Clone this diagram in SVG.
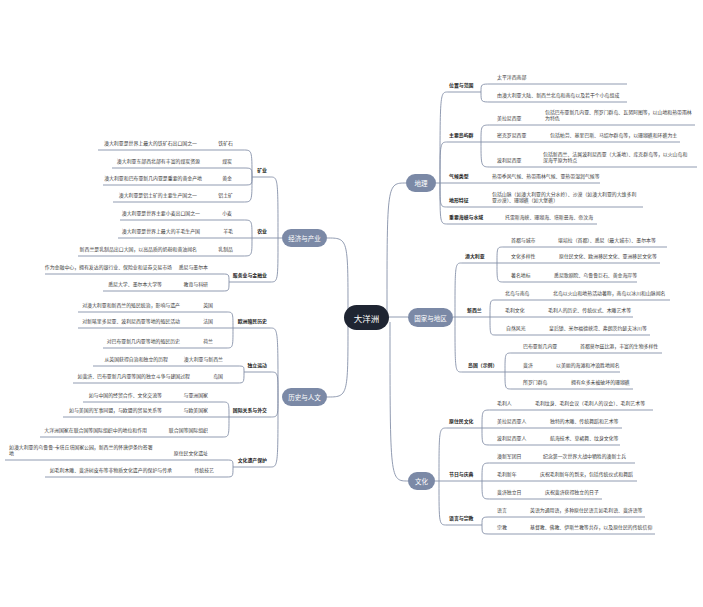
<svg xmlns="http://www.w3.org/2000/svg" width="703" height="607" viewBox="0 0 703 607">
<style>
.c,.u{fill:none;stroke:#8590a8;stroke-width:.9}
text{font-family:"Noto Sans CJK SC","Noto Sans",sans-serif}
.l{font-size:4.9px;fill:#3a3a3a}
.s{font-size:4.9px;fill:#222;font-weight:700}
.e{text-anchor:end}
.p{fill:#7b89a6}
.pt{font-size:6.5px;fill:#fff;text-anchor:middle;dominant-baseline:central}
.root{fill:#1f2532}
.rt{font-size:8.5px;fill:#fff;text-anchor:middle;dominant-baseline:central}
</style>
<rect width="703" height="607" fill="#fff"/>
<g id="connectors">
<path class="c" d="M348,312 C348,238 348,238 327,238"/>
<path class="c" d="M348,322 C348,397 348,397 327,397"/>
<path class="c" d="M387,312 C387,183 387,183 406,183"/>
<path class="c" d="M389,317 H408"/>
<path class="c" d="M390,322 C390,481 390,481 408,481"/>
<path class="c" d="M440,183 C440,92 440,92 448,92"/>
<path class="c" d="M440,183 C440,142 440,142 448,142"/>
<path class="c" d="M440,183 C440,207 440,207 448,207"/>
<path class="c" d="M440,183 C440,224 440,224 448,224"/>
<path class="c" d="M481,92 C481,84 481,84 491,84"/>
<path class="c" d="M481,92 C481,102 481,102 491,102"/>
<path class="c" d="M481,142 C481,125 481,125 491,125"/>
<path class="c" d="M481,142 C481,167 481,167 491,167"/>
<path class="c" d="M455,317 C455,263 455,263 462,263"/>
<path class="c" d="M455,317 C455,372 455,372 462,372"/>
<path class="c" d="M497,263 C497,247 497,247 504,247"/>
<path class="c" d="M497,263 C497,282 497,282 504,282"/>
<path class="c" d="M490,317 C490,300 490,300 496,300"/>
<path class="c" d="M490,317 C490,335 490,335 496,335"/>
<path class="c" d="M505,372 C505,353 505,353 512,353"/>
<path class="c" d="M505,372 C505,389 505,389 512,389"/>
<path class="c" d="M439,481 C439,428 439,428 447,428"/>
<path class="c" d="M439,481 C439,525 439,525 447,525"/>
<path class="c" d="M482,428 C482,410 482,410 491,410"/>
<path class="c" d="M482,428 C482,445 482,445 491,445"/>
<path class="c" d="M482,481 C482,463 482,463 491,463"/>
<path class="c" d="M482,481 C482,499 482,499 491,499"/>
<path class="c" d="M482,525 C482,517 482,517 491,517"/>
<path class="c" d="M482,525 C482,534 482,534 491,534"/>
<path class="c" d="M278,238 C278,177 278,177 270,177"/>
<path class="c" d="M278,238 C278,282 278,282 270,282"/>
<path class="c" d="M252,177 C252,150 252,150 243,150"/>
<path class="c" d="M252,177 C252,168 252,168 243,168"/>
<path class="c" d="M252,177 C252,185 252,185 243,185"/>
<path class="c" d="M252,177 C252,202 252,202 243,202"/>
<path class="c" d="M252,238 C252,220 252,220 243,220"/>
<path class="c" d="M252,238 C252,256 252,256 243,256"/>
<path class="c" d="M229,282 C229,274 229,274 222,274"/>
<path class="c" d="M229,282 C229,291 229,291 222,291"/>
<path class="c" d="M278,397 C278,328 278,328 270,328"/>
<path class="c" d="M278,397 C278,372 278,372 270,372"/>
<path class="c" d="M278,397 C278,417 278,417 270,417"/>
<path class="c" d="M278,397 C278,467 278,467 270,467"/>
<path class="c" d="M233,328 C233,312 233,312 226,312"/>
<path class="c" d="M233,328 C233,348 233,348 226,348"/>
<path class="c" d="M244,372 C244,366 244,366 237,366"/>
<path class="c" d="M244,372 C244,383 244,383 237,383"/>
<path class="c" d="M229,417 C229,402 229,402 222,402"/>
<path class="c" d="M229,417 C229,437 229,437 222,437"/>
<path class="c" d="M233,467 C233,460 233,460 226,460"/>
<path class="c" d="M233,467 C233,477 233,477 226,477"/>
</g>

<g id="root"><rect class="root" x="344" y="305" width="45" height="25" rx="12.5"/><text class="rt" x="366.5" y="317.5">大洋洲</text></g>

<g id="t-dili"><rect class="p" x="406" y="174" width="30" height="18" rx="9"/><text class="pt" x="421" y="183">地理</text></g>
<g id="t-guojia"><rect class="p" x="408" y="308" width="45" height="19" rx="9.5"/><text class="pt" x="430.5" y="317.5">国家与地区</text></g>
<g id="t-wenhua"><rect class="p" x="408" y="472" width="27" height="18" rx="9"/><text class="pt" x="421.5" y="481">文化</text></g>
<g id="t-jingji"><rect class="p" x="282" y="229" width="45" height="18" rx="9"/><text class="pt" x="304.5" y="238">经济与产业</text></g>
<g id="t-lishi"><rect class="p" x="282" y="388" width="45" height="18" rx="9"/><text class="pt" x="304.5" y="397">历史与人文</text></g>

<g id="s-weizhi"><path class="u" d="M448,92 H481"/><text class="s" x="449" y="87">位置与范围</text></g>
<g id="n-taipingyang"><path class="u" d="M491,84 H627"/><text class="l" x="497" y="79">太平洋西南部</text></g>
<g id="n-youaodaliya"><path class="u" d="M491,102 H627"/><text class="l" x="497" y="97">由澳大利亚大陆、新西兰北岛和南岛以及若干个小岛组成</text></g>
<g id="s-daoyu"><path class="u" d="M448,142 H481"/><text class="s" x="449" y="137">主要岛屿群</text></g>
<g id="n-melan"><path class="u" d="M491,125 H541"/><text class="l" x="497" y="120">美拉尼西亚</text></g>
<g id="d-melan"><path class="u" d="M541,125 H695"/><text class="l" x="545" y="114">包括巴布亚新几内亚、所罗门群岛、瓦努阿图等，以山地和热带雨林</text><text class="l" x="545" y="120">为特色</text></g>
<g id="n-mikro"><path class="u" d="M481,142 H546"/><text class="l" x="497" y="137">密克罗尼西亚</text></g>
<g id="d-mikro"><path class="u" d="M546,142 H680"/><text class="l" x="550" y="137">包括帕劳、基里巴斯、马绍尔群岛等，以珊瑚礁和环礁为主</text></g>
<g id="n-poly"><path class="u" d="M491,167 H539"/><text class="l" x="497" y="162">波利尼西亚</text></g>
<g id="d-poly"><path class="u" d="M539,167 H697"/><text class="l" x="543" y="156">包括新西兰、法属波利尼西亚（大溪地）、库克群岛等，以火山岛和</text><text class="l" x="543" y="162">深海平原为特点</text></g>
<g id="s-qihou"><path class="u" d="M436,183 H488"/><text class="s" x="449" y="178">气候类型</text></g>
<g id="d-qihou"><path class="u" d="M488,183 H600"/><text class="l" x="492" y="178">热带季风气候、热带雨林气候、亚热带湿润气候等</text></g>
<g id="s-dixing"><path class="u" d="M448,207 H488"/><text class="s" x="449" y="202">地形特征</text></g>
<g id="d-dixing"><path class="u" d="M488,207 H643"/><text class="l" x="492" y="196">包括山脉（如澳大利亚的大分水岭）、沙漠（如澳大利亚的大维多利</text><text class="l" x="492" y="202">亚沙漠）、珊瑚礁（如大堡礁）</text></g>
<g id="s-haixia"><path class="u" d="M448,224 H501"/><text class="s" x="449" y="219">重要海峡与水域</text></g>
<g id="d-haixia"><path class="u" d="M501,224 H597"/><text class="l" x="505" y="219">托雷斯海峡、珊瑚海、塔斯曼海、帝汶海</text></g>

<g id="s-aodaliya"><path class="u" d="M462,263 H497"/><text class="s" x="465" y="258">澳大利亚</text></g>
<g id="n-shoudu"><path class="u" d="M504,247 H554"/><text class="l" x="511" y="242">首都与城市</text></g>
<g id="d-shoudu"><path class="u" d="M554,247 H667"/><text class="l" x="558" y="242">堪培拉（首都）、悉尼（最大城市）、墨尔本等</text></g>
<g id="n-duoyang"><path class="u" d="M497,263 H555"/><text class="l" x="511" y="258">文化多样性</text></g>
<g id="d-duoyang"><path class="u" d="M555,263 H660"/><text class="l" x="559" y="258">原住民文化、欧洲移民文化、亚洲移民文化等</text></g>
<g id="n-dibiao"><path class="u" d="M504,282 H550"/><text class="l" x="511" y="277">著名地标</text></g>
<g id="d-dibiao"><path class="u" d="M550,282 H637"/><text class="l" x="554" y="277">悉尼歌剧院、乌鲁鲁巨石、黄金海岸等</text></g>
<g id="s-xinxilan"><path class="u" d="M453,317 H490"/><text class="s" x="467" y="312">新西兰</text></g>
<g id="n-beidao"><path class="u" d="M496,300 H549"/><text class="l" x="505" y="295">北岛与南岛</text></g>
<g id="d-beidao"><path class="u" d="M549,300 H670"/><text class="l" x="553" y="295">北岛以火山和地热活动著称，南岛以冰川和山脉闻名</text></g>
<g id="n-maoli"><path class="u" d="M490,317 H544"/><text class="l" x="505" y="312">毛利文化</text></g>
<g id="d-maoli"><path class="u" d="M544,317 H633"/><text class="l" x="548" y="312">毛利人的历史、传统仪式、木雕艺术等</text></g>
<g id="n-ziran"><path class="u" d="M496,335 H545"/><text class="l" x="506" y="330">自然风光</text></g>
<g id="d-ziran"><path class="u" d="M545,335 H650"/><text class="l" x="549" y="330">皇后镇、米尔福德峡湾、弗朗茨约瑟夫冰川等</text></g>
<g id="s-daoguo"><path class="u" d="M462,372 H505"/><text class="s" x="468" y="367">岛国（示例）</text></g>
<g id="n-babuya"><path class="u" d="M512,353 H576"/><text class="l" x="523" y="348">巴布亚新几内亚</text></g>
<g id="d-babuya"><path class="u" d="M576,353 H662"/><text class="l" x="580" y="348">首都莫尔兹比港，丰富的生物多样性</text></g>
<g id="n-feiji"><path class="u" d="M505,372 H552"/><text class="l" x="523" y="367">斐济</text></g>
<g id="d-feiji"><path class="u" d="M552,372 H620"/><text class="l" x="556" y="367">以美丽的海滩和冲浪胜地闻名</text></g>
<g id="n-suoluomen"><path class="u" d="M512,389 H567"/><text class="l" x="523" y="384">所罗门群岛</text></g>
<g id="d-suoluomen"><path class="u" d="M567,389 H633"/><text class="l" x="571" y="384">拥有众多未被破坏的珊瑚礁</text></g>

<g id="s-yuanzhumin"><path class="u" d="M447,428 H482"/><text class="s" x="449" y="423">原住民文化</text></g>
<g id="n-maoliren"><path class="u" d="M491,410 H531"/><text class="l" x="497" y="405">毛利人</text></g>
<g id="d-maoliren"><path class="u" d="M531,410 H653"/><text class="l" x="535" y="405">毛利纹身、毛利会议（毛利人的议会）、毛利艺术等</text></g>
<g id="n-melanren"><path class="u" d="M482,428 H546"/><text class="l" x="497" y="423">美拉尼西亚人</text></g>
<g id="d-melanren"><path class="u" d="M546,428 H622"/><text class="l" x="550" y="423">独特的木雕、传统舞蹈和艺术等</text></g>
<g id="n-polyren"><path class="u" d="M491,445 H546"/><text class="l" x="497" y="440">波利尼西亚人</text></g>
<g id="d-polyren"><path class="u" d="M546,445 H620"/><text class="l" x="550" y="440">航海技术、草裙舞、纹身文化等</text></g>
<g id="s-jieri"><path class="u" d="M435,481 H482"/><text class="s" x="449" y="476">节日与庆典</text></g>
<g id="n-aoxin"><path class="u" d="M491,463 H539"/><text class="l" x="497" y="458">澳新军团日</text></g>
<g id="d-aoxin"><path class="u" d="M539,463 H635"/><text class="l" x="543" y="458">纪念第一次世界大战中牺牲的澳新士兵</text></g>
<g id="n-maolixinnian"><path class="u" d="M482,481 H536"/><text class="l" x="497" y="476">毛利新年</text></g>
<g id="d-maolixinnian"><path class="u" d="M536,481 H637"/><text class="l" x="540" y="476">庆祝毛利新年的到来，包括传统仪式和舞蹈</text></g>
<g id="n-duli"><path class="u" d="M491,499 H541"/><text class="l" x="497" y="494">斐济独立日</text></g>
<g id="d-duli"><path class="u" d="M541,499 H602"/><text class="l" x="545" y="494">庆祝斐济获得独立的日子</text></g>
<g id="s-yuyan"><path class="u" d="M447,525 H482"/><text class="s" x="449" y="520">语言与宗教</text></g>
<g id="n-yuyan"><path class="u" d="M491,517 H526"/><text class="l" x="497" y="512">语言</text></g>
<g id="d-yuyan"><path class="u" d="M526,517 H645"/><text class="l" x="530" y="512">英语为通用语，多种原住民语言如毛利语、斐济语等</text></g>
<g id="n-zongjiao"><path class="u" d="M491,534 H526"/><text class="l" x="497" y="529">宗教</text></g>
<g id="d-zongjiao"><path class="u" d="M526,534 H655"/><text class="l" x="530" y="529">基督教、佛教、伊斯兰教等共存，以及原住民的传统信仰</text></g>

<g id="s-kuangye"><path class="u" d="M252,177 H270"/><text class="s e" x="267" y="172">矿业</text></g>
<g id="n-tiekuang"><path class="u" d="M214,150 H243"/><text class="l e" x="233" y="145">铁矿石</text></g>
<g id="d-tiekuang"><path class="u" d="M98,150 H214"/><text class="l e" x="197" y="145">澳大利亚是世界上最大的铁矿石出口国之一</text></g>
<g id="n-meitan"><path class="u" d="M218,168 H243"/><text class="l e" x="232" y="163">煤炭</text></g>
<g id="d-meitan"><path class="u" d="M112,168 H218"/><text class="l e" x="200" y="163">澳大利亚东部西北部有丰富的煤炭资源</text></g>
<g id="n-huangjin"><path class="u" d="M218,185 H243"/><text class="l e" x="232" y="180">黄金</text></g>
<g id="d-huangjin"><path class="u" d="M103,185 H218"/><text class="l e" x="202" y="180">澳大利亚和巴布亚新几内亚是重要的黄金产地</text></g>
<g id="n-lvtu"><path class="u" d="M214,202 H243"/><text class="l e" x="233" y="197">铝土矿</text></g>
<g id="d-lvtu"><path class="u" d="M113,202 H214"/><text class="l e" x="197" y="197">澳大利亚是铝土矿的主要生产国之一</text></g>
<g id="s-nongye"><path class="u" d="M252,238 H282"/><text class="s e" x="267" y="233">农业</text></g>
<g id="n-xiaomai"><path class="u" d="M218,220 H243"/><text class="l e" x="232" y="215">小麦</text></g>
<g id="d-xiaomai"><path class="u" d="M120,220 H218"/><text class="l e" x="200" y="215">澳大利亚是世界主要小麦出口国之一</text></g>
<g id="n-yangmao"><path class="u" d="M219,238 H252"/><text class="l e" x="233" y="233">羊毛</text></g>
<g id="d-yangmao"><path class="u" d="M118,238 H219"/><text class="l e" x="200" y="233">澳大利亚是世界上最大的羊毛生产国</text></g>
<g id="n-ruzhipin"><path class="u" d="M214,256 H243"/><text class="l e" x="233" y="251">乳制品</text></g>
<g id="d-ruzhipin"><path class="u" d="M78,256 H214"/><text class="l e" x="197" y="251">新西兰是乳制品出口大国，以高品质的奶粉和黄油闻名</text></g>
<g id="s-fuwuye"><path class="u" d="M229,282 H270"/><text class="s e" x="267" y="277">服务业与金融业</text></g>
<g id="n-xini"><path class="u" d="M175,274 H222"/><text class="l e" x="208" y="269">悉尼与墨尔本</text></g>
<g id="d-xini"><path class="u" d="M45,274 H175"/><text class="l e" x="172" y="269">作为金融中心，拥有发达的银行业、保险业和证券交易市场</text></g>
<g id="n-jiaoyu"><path class="u" d="M180,291 H222"/><text class="l e" x="208" y="286">教育与科研</text></g>
<g id="d-jiaoyu"><path class="u" d="M103,291 H180"/><text class="l e" x="162" y="286">悉尼大学、墨尔本大学等</text></g>

<g id="s-zhimin"><path class="u" d="M233,328 H270"/><text class="s e" x="267" y="323">欧洲殖民历史</text></g>
<g id="n-yingguo"><path class="u" d="M199,312 H226"/><text class="l e" x="213" y="307">英国</text></g>
<g id="d-yingguo"><path class="u" d="M78,312 H199"/><text class="l e" x="180" y="307">对澳大利亚和新西兰的殖民统治，影响与遗产</text></g>
<g id="n-faguo"><path class="u" d="M199,328 H233"/><text class="l e" x="213" y="323">法国</text></g>
<g id="d-faguo"><path class="u" d="M78,328 H199"/><text class="l e" x="180" y="323">对新喀里多尼亚、波利尼西亚等地的殖民活动</text></g>
<g id="n-helan"><path class="u" d="M199,348 H226"/><text class="l e" x="213" y="343">荷兰</text></g>
<g id="d-helan"><path class="u" d="M103,348 H199"/><text class="l e" x="180" y="343">对巴布亚新几内亚等地的殖民历史</text></g>
<g id="s-duli"><path class="u" d="M244,372 H270"/><text class="s e" x="267" y="367">独立运动</text></g>
<g id="n-aoxin2"><path class="u" d="M180,366 H237"/><text class="l e" x="223" y="361">澳大利亚与新西兰</text></g>
<g id="d-aoxin2"><path class="u" d="M93,366 H180"/><text class="l e" x="168" y="361">从英国获得自治和独立的历程</text></g>
<g id="n-daoguo2"><path class="u" d="M209,383 H237"/><text class="l e" x="223" y="378">岛国</text></g>
<g id="d-daoguo2"><path class="u" d="M73,383 H209"/><text class="l e" x="190" y="378">如斐济、巴布亚新几内亚等国的独立斗争与建国过程</text></g>
<g id="s-guoji"><path class="u" d="M229,417 H270"/><text class="s e" x="267" y="412">国际关系与外交</text></g>
<g id="n-yazhou"><path class="u" d="M180,402 H222"/><text class="l e" x="208" y="397">与亚洲国家</text></g>
<g id="d-yazhou"><path class="u" d="M83,402 H180"/><text class="l e" x="162" y="397">如与中国的经贸合作、文化交流等</text></g>
<g id="n-oumei"><path class="u" d="M180,417 H229"/><text class="l e" x="208" y="412">与欧美国家</text></g>
<g id="d-oumei"><path class="u" d="M63,417 H180"/><text class="l e" x="162" y="412">如与美国的军事同盟，与欧盟的贸易关系等</text></g>
<g id="n-lianheguo"><path class="u" d="M165,437 H222"/><text class="l e" x="208" y="432">联合国等国际组织</text></g>
<g id="d-lianheguo"><path class="u" d="M40,437 H165"/><text class="l e" x="147" y="432">大洋洲国家在联合国等国际组织中的地位和作用</text></g>
<g id="s-yichan"><path class="u" d="M233,467 H270"/><text class="s e" x="267" y="462">文化遗产保护</text></g>
<g id="n-yizhi"><path class="u" d="M170,460 H226"/><text class="l e" x="208" y="455">原住民文化遗址</text></g>
<g id="d-yizhi"><path class="u" d="M5,460 H170"/><text class="l" x="9" y="449">如澳大利亚的乌鲁鲁-卡塔丘塔国家公园，新西兰的怀唐伊条约签署</text><text class="l" x="9" y="455">地</text></g>
<g id="n-jiyi"><path class="u" d="M190,477 H226"/><text class="l e" x="214" y="472">传统技艺</text></g>
<g id="d-jiyi"><path class="u" d="M45,477 H190"/><text class="l e" x="172" y="472">如毛利木雕、斐济树皮布等非物质文化遗产的保护与传承</text></g>
</svg>
